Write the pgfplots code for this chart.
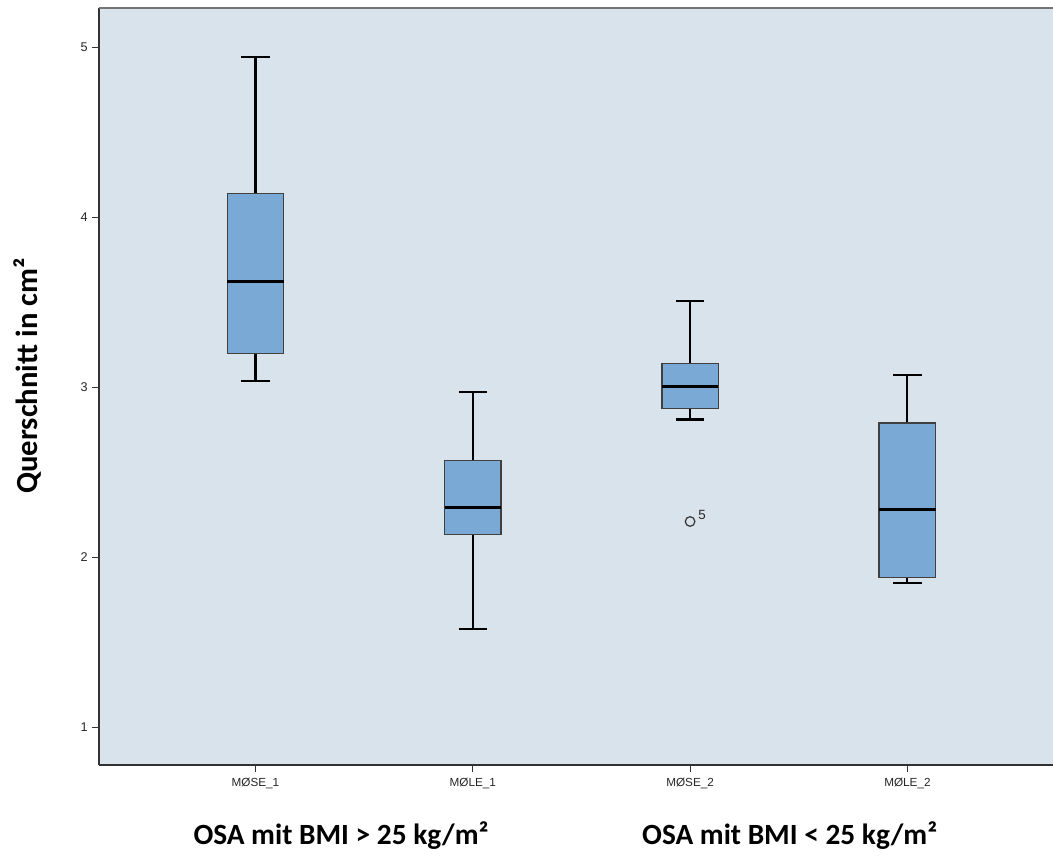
\documentclass[border=0pt]{standalone}
\usepackage{pgfplots}
\pgfplotsset{compat=1.18}
\usepgfplotslibrary{statistics}
\usepackage{fontspec}
\setmainfont{Carlito}
\newfontfamily\arial{Liberation Sans}
\definecolor{bgcol}{RGB}{217,227,236}
\definecolor{boxcol}{RGB}{123,169,214}

\begin{document}
\begin{tikzpicture}
\begin{axis}[
  at={(0,0)}, anchor=south west,
  scale only axis, width=715.5pt, height=568pt,
  xmin=0.28, xmax=4.67, ymin=0.776, ymax=5.23,
  axis x line*=bottom, axis y line*=left,
  axis line style={black!80, line width=1.3pt},
  axis background/.style={fill=bgcol},
  xtick={1,2,3,4},
  xticklabels={MØSE\_1, MØLE\_1, MØSE\_2, MØLE\_2},
  ytick={1,2,3,4,5},
  tick align=outside, major tick length=5pt,
  tick style={black!80, line width=0.8pt},
  /pgf/number format/assume math mode=true,
  ticklabel style={font=\arial\fontsize{8.8}{10}\selectfont, text=black!85},
  yticklabel style={font=\arial\fontsize{9.5}{10}\selectfont},
  xticklabel style={yshift=-1pt},
  boxplot/draw direction=y,
  boxplot/box extend=0.26,
  boxplot/whisker extend=0.13,
  boxplot/every box/.style={draw=black!75, fill=boxcol, line width=1pt},
  boxplot/every whisker/.style={black, line width=1.6pt},
  boxplot/every median/.style={black, line width=2.4pt},
  clip=false,
]
\addplot+[boxplot prepared={draw position=1, lower whisker=3.035, lower quartile=3.20,
  median=3.62, upper quartile=4.14, upper whisker=4.94}, black, mark=none] coordinates {};
\addplot+[boxplot prepared={draw position=2, lower whisker=1.58, lower quartile=2.135,
  median=2.294, upper quartile=2.57, upper whisker=2.97}, black, mark=none] coordinates {};
\addplot+[boxplot prepared={draw position=3, lower whisker=2.81, lower quartile=2.876,
  median=3.006, upper quartile=3.14, upper whisker=3.506}, black, mark=o,
  mark size=3.6pt, mark options={draw=black!80, line width=0.9pt, fill=none}]
  table[row sep=\\, y index=0] {2.21\\};
\addplot+[boxplot prepared={draw position=4, lower whisker=1.847, lower quartile=1.88,
  median=2.282, upper quartile=2.79, upper whisker=3.07}, black, mark=none] coordinates {};
\node[font=\arial\fontsize{10}{10}\selectfont, text=black!85, anchor=south west, inner sep=0pt]
  at ([xshift=6pt,yshift=1pt]axis cs:3,2.21) {5};
\draw[black!55, line width=1.4pt] (rel axis cs:0,1) -- (rel axis cs:1,1);
\end{axis}
\node[rotate=90, font=\bfseries\fontsize{23}{26}\selectfont] at (-54pt,292pt) {Querschnitt in cm²};
\node[font=\bfseries\fontsize{22}{24}\selectfont] at (181.5pt,-52.5pt) {OSA mit BMI > 25 kg/m²};
\node[font=\bfseries\fontsize{22}{24}\selectfont] at (518pt,-52.5pt) {OSA mit BMI < 25 kg/m²};
\pgfresetboundingbox
\path[use as bounding box] (-74.25pt,-72pt) rectangle (715.5pt,574pt);
\end{tikzpicture}
\end{document}
